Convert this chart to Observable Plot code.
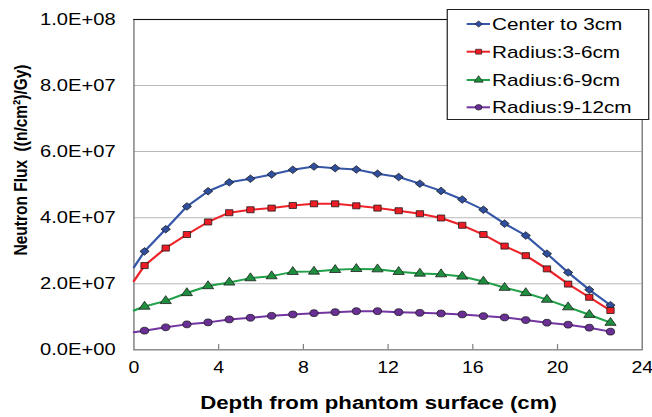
<!DOCTYPE html>
<html>
<head>
<meta charset="utf-8">
<script src="https://cdn.jsdelivr.net/npm/d3@7"></script>
<script src="https://cdn.jsdelivr.net/npm/@observablehq/plot@0.6"></script>
<style>
  html, body { margin: 0; padding: 0; background: #fff; overflow: hidden; }
  #chart svg { display: block; transform: scaleX(1.221); transform-origin: 0 0; }
</style>
</head>
<body>
<div id="chart"></div>
<script>
// ---- data (flux in units of 1e6 (n/cm^2)/Gy) ----
const seriesNames = ["Center to 3cm", "Radius:3-6cm", "Radius:6-9cm", "Radius:9-12cm"];
const depth = [0.5, 1.5, 2.5, 3.5, 4.5, 5.5, 6.5, 7.5, 8.5, 9.5, 10.5, 11.5,
               12.5, 13.5, 14.5, 15.5, 16.5, 17.5, 18.5, 19.5, 20.5, 21.5, 22.5];
const center = [29.8, 36.5, 43.4, 48.0, 50.7, 51.8, 53.1, 54.5, 55.5, 55.0, 54.6, 53.3,
                52.3, 50.3, 48.1, 45.5, 42.4, 38.2, 34.6, 29.1, 23.4, 18.2, 13.5];
const radius3to6 = [25.5, 30.8, 34.9, 38.7, 41.5, 42.4, 42.9, 43.7, 44.2, 44.2, 43.6, 42.9,
                    42.1, 41.2, 39.9, 37.7, 34.9, 31.4, 28.5, 24.5, 19.9, 15.9, 11.9];
const radius6to9 = [13.1, 14.8, 17.2, 19.3, 20.4, 21.7, 22.3, 23.6, 23.7, 24.2, 24.5, 24.4,
                    23.6, 23.1, 22.9, 22.2, 20.7, 18.8, 17.2, 15.2, 12.9, 10.6, 8.2];
const radius9to12 = [5.8, 6.8, 7.7, 8.3, 9.2, 9.7, 10.3, 10.7, 11.1, 11.4, 11.7, 11.7,
                     11.4, 11.2, 11.0, 10.7, 10.2, 9.8, 9.0, 8.2, 7.6, 6.7, 5.5];
const surfaceValues = [25.0, 20.8, 11.9, 5.3]; // line value at depth 0 (no marker)
const xTicks = [0, 4, 8, 12, 16, 20, 24];
const yTicks = [0, 2e7, 4e7, 6e7, 8e7, 1e8];

const lineColors = ["#3656a8", "#ee2229", "#21a04a", "#7335a0"];
const markerFills = ["#2f4f9e", "#ee1c25", "#1f8f3f", "#692f95"];
const symbols = ["diamond2", "square", "triangle", "circle"];
const d3Symbols = [d3.symbolDiamond2, d3.symbolSquare, d3.symbolTriangle, d3.symbolCircle];

// ---- tables ----
const allSeries = [center, radius3to6, radius6to9, radius9to12];
const points = [];
const lines = [];
allSeries.forEach((vals, s) => {
  lines.push({series: seriesNames[s], depth: 0, flux: surfaceValues[s] * 1e6});
  vals.forEach((v, i) => {
    const row = {series: seriesNames[s], depth: depth[i], flux: v * 1e6};
    points.push(row);
    lines.push(row);
  });
});

const fmt = d => {
  if (d === 0) return "0.0E+00";
  const e = Math.floor(Math.log10(d));
  const m = d / Math.pow(10, e);
  return m.toFixed(1) + "E+" + String(e).padStart(2, "0");
};

const W = 534, H = 417;
const chart = Plot.plot({
  width: W, height: H,
  marginLeft: 109.2, marginRight: 8.5, marginTop: 19, marginBottom: 67.7,
  style: {fontFamily: "'Liberation Sans', Arial, sans-serif", fontSize: "16.5px", background: "#fff", color: "#000"},
  x: {domain: [0, 24], ticks: xTicks, label: null},
  y: {domain: [0, 1e8], ticks: yTicks, label: null},
  color: {domain: seriesNames, range: lineColors},
  symbol: {domain: seriesNames, range: symbols},
  marks: [
    Plot.gridY(yTicks, {stroke: "#b8b8b8", strokeOpacity: 1, strokeWidth: 1}),
    Plot.frame({stroke: "#808080", strokeWidth: 1.2}),
    Plot.ruleY([1e8], {stroke: "#111", strokeWidth: 1.2}),
    Plot.ruleX(xTicks.slice(1, -1), {y1: 0, y2: 1.6e6, stroke: "#808080"}),
    Plot.axisY(yTicks, {tickSize: 0, tickPadding: 15, tickFormat: fmt, fontSize: 16.5, label: null}),
    Plot.axisX(xTicks, {tickSize: 0, tickPadding: 12, fontSize: 16, label: null}),
    Plot.line(lines, {x: "depth", y: "flux", z: "series", stroke: "series", strokeWidth: 2}),
    Plot.dot(points, {x: "depth", y: "flux", symbol: "series",
      fill: d => markerFills[seriesNames.indexOf(d.series)],
      stroke: "#1a1a1a", strokeWidth: 0.7, r: 3.4})
  ]
});

const svg = d3.select(chart);

// axis titles
svg.append("text")
  .attr("transform", "translate(17,160) rotate(-90)")
  .attr("text-anchor", "middle")
  .attr("dominant-baseline", "central")
  .attr("font-weight", "bold")
  .attr("font-size", 15.5)
  .attr("fill", "#000")
  .text("Neutron Flux\u00a0 ((n/cm\u00b2)/Gy)");

svg.append("text")
  .attr("x", 310).attr("y", 409)
  .attr("text-anchor", "middle")
  .attr("font-weight", "bold")
  .attr("font-size", 18.2)
  .attr("fill", "#000")
  .text("Depth from phantom surface (cm)");

// legend
const lg = svg.append("g");
lg.append("rect")
  .attr("x", 366.3).attr("y", 9.5).attr("width", 165).attr("height", 110)
  .attr("fill", "#fff").attr("stroke", "#222").attr("stroke-width", 1);
const rowsY = [24, 51.7, 80, 107.3];
seriesNames.forEach((name, i) => {
  const y = rowsY[i];
  lg.append("line").attr("x1", 382.2).attr("x2", 401.3).attr("y1", y).attr("y2", y)
    .attr("stroke", lineColors[i]).attr("stroke-width", 2);
  lg.append("path").attr("transform", `translate(392,${y})`)
    .attr("d", d3.symbol(d3Symbols[i], 24)())
    .attr("fill", markerFills[i]).attr("stroke", "#1a1a1a").attr("stroke-width", 0.6);
  lg.append("text").attr("x", 403).attr("y", y)
    .attr("text-anchor", "start")
    .attr("dominant-baseline", "central")
    .attr("font-size", 17).attr("fill", "#000")
    .text(name);
});

document.getElementById("chart").appendChild(chart);
</script>
</body>
</html>
